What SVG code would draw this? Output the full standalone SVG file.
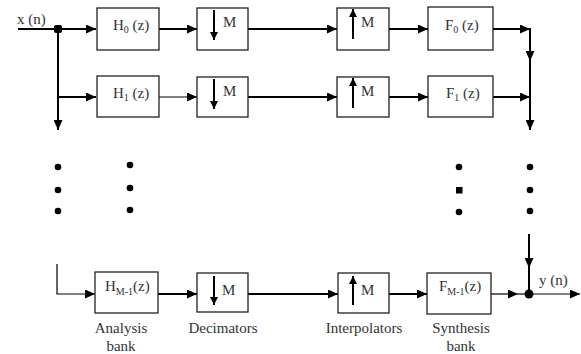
<svg xmlns="http://www.w3.org/2000/svg" width="581" height="354" viewBox="0 0 581 354" font-family="'Liberation Serif', 'Times New Roman', serif">
<style>
.box{fill:#fff;stroke:#222;stroke-width:1.3}
.w{stroke:#000;stroke-width:2;fill:none}
.t{stroke:#000;stroke-width:1.2;fill:none}
.a{marker-end:url(#ah)}
.sa{marker-end:url(#sah)}
text{font-family:'Liberation Serif','Times New Roman',serif;font-size:15px;fill:#333}
.lbl{text-anchor:middle}
.sub{font-size:10px}
.dot{fill:#000}
</style>
<defs>
<marker id="ah" markerUnits="userSpaceOnUse" markerWidth="10" markerHeight="9" viewBox="0 0 10 9" refX="10" refY="4.5" orient="auto"><path d="M0,0 L10,4.5 L0,9 z" fill="#000"/></marker>
<marker id="sah" markerUnits="userSpaceOnUse" markerWidth="8" markerHeight="8" viewBox="0 0 8 8" refX="8" refY="4" orient="auto"><path d="M0,0 L8,4 L0,8 z" fill="#000"/></marker>
</defs>
<g id="connectors">
<path class="w" d="M18,29 H58"/>
<path class="w a" d="M58,29 H96"/>
<path class="w a" d="M58,29 V130"/>
<path class="w a" d="M58,97 H96"/>
<path class="t a" d="M57,264 V294 H95"/>
<path class="w a" d="M159,29 H197"/>
<path class="t a" d="M159,97 H197"/>
<path class="w a" d="M158,294 H197"/>
<path class="w a" d="M248,29 H337"/>
<path class="w a" d="M248,97 H337"/>
<path class="w a" d="M248,294 H338"/>
<path class="w a" d="M389,29 H428"/>
<path class="w a" d="M389,97 H428"/>
<path class="w a" d="M389,294 H427"/>
<path class="w a" d="M493,29 H530"/>
<path class="w a" d="M493,97 H530"/>
<path class="w a" d="M530,28 V61"/>
<path class="w a" d="M530,61 V130"/>
<path class="w a" d="M529,234 V268"/>
<path class="w" d="M529,268 V294"/>
<path class="t a" d="M491,294 H518"/>
<path class="t" d="M518,294 H529"/>
<path class="t a" d="M529,294 H580"/>
<rect class="dot" x="54" y="25" width="8" height="8" rx="2"/>
<circle class="dot" cx="529" cy="294" r="4.5"/>
</g>
<g id="x-n"><text x="17" y="24">x (n)</text></g>
<g id="y-n"><text x="539" y="285">y (n)</text></g>
<g id="H0"><rect class="box" x="97" y="8" width="62" height="42"/><text x="113" y="30">H<tspan class="sub" dy="3">0</tspan><tspan dy="-3"> (z)</tspan></text></g>
<g id="H1"><rect class="box" x="97" y="76" width="62" height="41"/><text x="113" y="98">H<tspan class="sub" dy="3">1</tspan><tspan dy="-3"> (z)</tspan></text></g>
<g id="HM1"><rect class="box" x="95" y="272" width="63" height="41"/><text x="105" y="291">H<tspan class="sub" dy="4">M-1</tspan><tspan dy="-4">(z)</tspan></text></g>
<g id="D0"><rect class="box" x="197" y="8" width="51" height="42"/><path class="w sa" d="M214,10 V40"/><text x="223" y="27">M</text></g>
<g id="D1"><rect class="box" x="197" y="77" width="51" height="40"/><path class="w sa" d="M214,79 V109"/><text x="223" y="96">M</text></g>
<g id="DM1"><rect class="box" x="197" y="273" width="51" height="39"/><path class="w sa" d="M214,276 V305"/><text x="222" y="295">M</text></g>
<g id="U0"><rect class="box" x="337" y="8" width="52" height="42"/><path class="w sa" d="M353,39 V9"/><text x="361" y="27">M</text></g>
<g id="U1"><rect class="box" x="337" y="77" width="52" height="40"/><path class="w sa" d="M353,108 V78"/><text x="361" y="96">M</text></g>
<g id="UM1"><rect class="box" x="338" y="273" width="51" height="40"/><path class="w sa" d="M353,305 V276"/><text x="361" y="295">M</text></g>
<g id="F0"><rect class="box" x="428" y="7" width="65" height="43"/><text x="445" y="30">F<tspan class="sub" dy="3">0</tspan><tspan dy="-3"> (z)</tspan></text></g>
<g id="F1"><rect class="box" x="428" y="76" width="65" height="41"/><text x="446" y="98">F<tspan class="sub" dy="3">1</tspan><tspan dy="-3"> (z)</tspan></text></g>
<g id="FM1"><rect class="box" x="427" y="273" width="64" height="41"/><text x="439" y="291">F<tspan class="sub" dy="4">M-1</tspan><tspan dy="-4">(z)</tspan></text></g>
<g id="dots">
<circle class="dot" cx="58" cy="167" r="3.3"/><circle class="dot" cx="58" cy="190" r="3.3"/><circle class="dot" cx="58" cy="211" r="3.3"/>
<circle class="dot" cx="130" cy="165" r="3.3"/><circle class="dot" cx="130" cy="188" r="3.3"/><circle class="dot" cx="130" cy="210" r="3.3"/>
<circle class="dot" cx="459" cy="167" r="3.3"/><rect class="dot" x="456" y="187" width="6.5" height="6.5"/><circle class="dot" cx="459" cy="212" r="3.3"/>
<circle class="dot" cx="530" cy="167" r="3.3"/><circle class="dot" cx="530" cy="190" r="3.3"/><circle class="dot" cx="530" cy="211" r="3.3"/>
</g>
<g id="labels">
<text class="lbl" x="121" y="333">Analysis</text><text class="lbl" x="121" y="351">bank</text>
<text class="lbl" x="223" y="333">Decimators</text>
<text class="lbl" x="364" y="333">Interpolators</text>
<text class="lbl" x="461" y="333">Synthesis</text><text class="lbl" x="461" y="351">bank</text>
</g>
</svg>
